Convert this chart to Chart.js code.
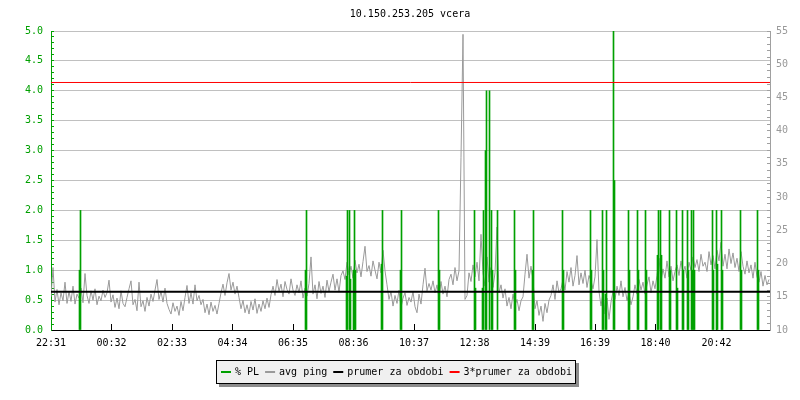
<!DOCTYPE html>
<html><head><meta charset="utf-8">
<script src="https://cdn.jsdelivr.net/npm/chart.js@4/dist/chart.umd.min.js"></script>
<style>html,body{margin:0;padding:0;background:#fff;}canvas{display:block;}</style>
</head><body>
<canvas id="c" width="800" height="400"></canvas>
<script>
const TITLE = '10.150.253.205 vcera';
const X_TICK_MINUTES = [0, 121, 242, 363, 484, 605, 726, 847, 968, 1088, 1209, 1331];
const X_TICK_LABELS = ['22:31','00:32','02:33','04:34','06:35','08:36','10:37','12:38','14:39','16:39','18:40','20:42'];
const X_MAX = 1438;
const PING_STEP_MIN = 4;
const PING_MS = [
  15.0, 19.4, 14.2, 16.1, 13.8, 15.6, 14.4, 17.2, 14.0, 15.8,
  14.3, 16.6, 13.9, 15.4, 14.8, 16.3, 14.1, 18.5, 15.2, 14.0,
  15.9, 14.5, 16.2, 13.8, 15.1, 14.4, 16.0, 14.9, 15.6, 17.5,
  14.2, 15.3, 13.4, 14.8, 13.2, 15.9, 14.0, 13.5, 14.9, 16.2,
  17.4, 13.8, 14.6, 12.9, 17.2, 13.5, 14.4, 12.8, 14.9, 13.6,
  15.4, 14.3, 16.0, 17.6, 14.6, 15.8, 14.2, 16.3, 14.0, 13.1,
  12.4, 14.1, 12.8, 13.6, 12.2, 14.3, 12.9, 14.9, 16.7, 14.0,
  15.6, 13.9, 16.8, 14.4, 15.2, 13.8, 14.6, 12.6, 13.9, 12.3,
  14.2, 12.8, 13.7, 12.4, 14.0, 15.6, 16.9, 15.2, 17.1, 18.5,
  16.0, 17.2, 15.4, 16.6, 14.9, 13.2, 14.5, 12.6, 13.8, 12.4,
  14.3, 13.0, 14.7, 12.5, 13.9, 12.8, 14.4, 13.2, 14.8, 13.4,
  15.3, 16.6, 15.2, 17.6, 15.8, 16.9, 15.0, 17.3, 16.1, 15.4,
  17.7, 16.0, 15.2, 16.8, 15.6, 17.4, 14.8, 16.3, 15.1, 17.0,
  21.0, 15.4, 16.8, 14.7, 17.3, 15.5, 16.6, 14.9, 17.5, 15.8,
  17.2, 18.4, 16.0, 17.7, 15.7, 18.2, 18.9, 17.6, 20.2, 18.3,
  19.6, 17.8, 20.5, 18.6, 19.9, 18.0, 20.3, 22.6, 18.8, 19.7,
  18.1, 20.4, 19.0, 17.7, 20.2, 18.6, 22.0, 18.9, 16.8, 14.6,
  15.8, 13.6, 15.2, 14.0, 16.0, 13.4, 14.8, 15.6, 13.7, 14.9,
  14.2, 15.8, 13.5, 12.6, 15.4, 13.9, 16.8, 19.3, 15.9, 17.0,
  16.0, 17.4, 15.6, 16.8, 14.8, 17.3, 15.4, 16.6, 15.0, 17.6,
  18.4, 16.8, 19.4, 17.4, 18.9, 36.0, 54.5, 14.6, 15.2, 18.6,
  17.3, 19.8, 18.0, 20.2, 17.4, 24.4, 18.6, 16.6, 21.0, 17.2,
  19.4, 16.4, 18.6, 25.5, 15.6, 16.8, 14.8, 16.2, 13.6, 14.9,
  13.2, 15.4, 13.8, 14.6, 12.9, 14.4, 15.0, 18.4, 21.4, 17.8,
  19.6, 17.6, 13.2, 14.4, 12.2, 13.6, 11.3, 14.0, 12.6, 14.5,
  15.2, 16.8, 14.6, 17.4, 15.6, 16.2, 17.6, 16.0, 18.8, 17.2,
  19.4, 16.6, 18.2, 21.2, 16.8, 18.6, 17.0, 19.0, 16.4, 18.2,
  17.4, 16.2, 18.0, 23.6, 15.8, 13.6, 15.6, 12.4, 14.8, 11.6,
  14.2, 15.8, 14.6, 16.6, 15.2, 17.4, 15.0, 16.4, 14.4, 15.6,
  13.8, 15.0, 16.8, 15.4, 17.6, 16.0, 17.2, 15.4, 16.8, 18.0,
  15.6, 17.4, 16.2, 18.2, 20.8, 17.4, 19.2, 17.8, 20.4, 18.0,
  19.6, 17.4, 18.8, 19.8, 18.2, 20.4, 18.6, 19.6, 17.8, 20.2,
  19.0, 21.0, 19.4, 20.6, 18.8, 21.4, 19.6, 20.2, 18.8, 21.8,
  19.8, 21.2, 19.2, 22.0, 20.4, 23.2, 19.6, 21.4, 19.2, 22.2,
  20.0, 21.6, 19.4, 20.8, 18.8, 21.8, 19.6, 18.4, 20.4, 18.6,
  19.8, 17.8, 20.2, 18.0, 17.2, 18.8, 16.6, 18.2, 16.8, 17.6
];
const PL_MINUTES = [
  57, 59, 509, 511, 591, 593, 597, 599, 605, 607, 609,
  661, 663, 699, 701, 775, 777, 847, 849, 863, 865,
  869, 871, 877, 881, 883, 893, 927, 929, 963, 965,
  1023, 1025, 1079, 1081, 1103, 1105, 1109, 1111, 1125, 1127,
  1155, 1157, 1173, 1175, 1189, 1191, 1213, 1215, 1219, 1221,
  1237, 1239, 1251, 1253, 1263, 1265, 1273, 1275, 1281, 1283,
  1285, 1287, 1323, 1325, 1331, 1333, 1341, 1343, 1379, 1381,
  1413, 1415
];
const PL_PERCENT = [
  1.0, 2.0, 1.0, 2.0, 0.9, 2.0, 2.0, 0.85, 1.0, 2.0, 1.0,
  1.1, 2.0, 1.0, 2.0, 2.0, 1.0, 2.0, 0.7, 0.7, 2.0,
  3.0, 4.0, 4.0, 2.0, 1.0, 2.0, 2.0, 1.0, 1.0, 2.0,
  2.0, 1.0, 2.0, 1.0, 2.0, 1.0, 0.6, 2.0, 5.0, 2.5,
  2.0, 1.0, 2.0, 1.0, 2.0, 1.0, 1.25, 2.0, 2.0, 1.25,
  2.0, 1.0, 2.0, 0.7, 2.0, 1.0, 2.0, 1.0, 2.0, 1.0,
  2.0, 1.0, 2.0, 1.0, 2.0, 1.1, 2.0, 1.0, 2.0, 1.0,
  2.0, 1.0
];
const AVG_PING = [15.75];
const TRIPLE_AVG_PING = [47.25];
const LEGEND_LABELS = ['% PL', 'avg ping', 'prumer za obdobi', '3*prumer za obdobi'];
const SERIES_COLORS = ['#00a000', '#9a9a9a', '#000000', '#ff0000'];

const FONT = { family: '"DejaVu Sans Mono", monospace', size: 10, weight: 'normal' };
const GREEN = SERIES_COLORS[0];
const isMajor = v => Math.abs(v * 2 - Math.round(v * 2)) < 1e-6;

const legendBox = {
  id: 'legendBox',
  afterDraw(chart) {
    const ctx = chart.ctx;
    ctx.save();
    ctx.font = '10px "DejaVu Sans Mono", monospace';
    const sw = 10, gapT = 4, gapI = 6, padL = 5, padR = 4;
    const widths = LEGEND_LABELS.map(t => ctx.measureText(t).width);
    let inner = 0;
    widths.forEach((w, i) => { inner += sw + gapT + w + (i ? gapI : 0); });
    const boxW = Math.round(inner + padL + padR);
    const boxH = 24;
    const bx = Math.round(396 - boxW / 2), by = 360;
    ctx.fillStyle = '#8c8c8c';
    ctx.fillRect(bx + 3, by + 3, boxW, boxH);
    ctx.fillStyle = '#f0f0f0';
    ctx.fillRect(bx, by, boxW, boxH);
    ctx.strokeStyle = '#000';
    ctx.lineWidth = 1;
    ctx.strokeRect(bx + 0.5, by + 0.5, boxW - 1, boxH - 1);
    let x = bx + padL;
    const cy = by + 12;
    ctx.textBaseline = 'middle';
    ctx.textAlign = 'left';
    LEGEND_LABELS.forEach((t, i) => {
      ctx.fillStyle = SERIES_COLORS[i];
      ctx.fillRect(x, cy - 1, sw, 2);
      x += sw + gapT;
      ctx.fillStyle = '#000';
      ctx.fillText(t, x, cy);
      x += widths[i] + gapI;
    });
    ctx.restore();
  }
};

const pingData = PING_MS.map((v, i) => ({ x: i * PING_STEP_MIN, y: v }));
const plData = PL_MINUTES.map((m, i) => ({ x: m, y: PL_PERCENT[i] }));

new Chart(document.getElementById('c'), {
  type: 'line',
  data: {
    datasets: [
      { type: 'bar', label: LEGEND_LABELS[0], data: plData, yAxisID: 'y', xAxisID: 'x',
        backgroundColor: GREEN, borderWidth: 0, barThickness: 1, grouped: false, order: 3 },
      { type: 'line', label: LEGEND_LABELS[1], data: pingData, yAxisID: 'y1', xAxisID: 'x',
        borderColor: SERIES_COLORS[1], borderWidth: 1, pointRadius: 0, tension: 0, order: 4 },
      { type: 'line', label: LEGEND_LABELS[2], data: [{ x: 0, y: AVG_PING[0] }, { x: X_MAX, y: AVG_PING[0] }],
        yAxisID: 'y1', xAxisID: 'x', borderColor: SERIES_COLORS[2], borderWidth: 2, pointRadius: 0, order: 1 },
      { type: 'line', label: LEGEND_LABELS[3], data: [{ x: 0, y: TRIPLE_AVG_PING[0] }, { x: X_MAX, y: TRIPLE_AVG_PING[0] }],
        yAxisID: 'y1', xAxisID: 'x', borderColor: SERIES_COLORS[3], borderWidth: 1, pointRadius: 0, order: 2 }
    ]
  },
  options: {
    responsive: false, animation: false, devicePixelRatio: 1,
    layout: { padding: { left: 20, right: 0, top: 0, bottom: 45 } },
    plugins: {
      legend: { display: false },
      tooltip: { enabled: false },
      title: { display: true, text: TITLE, color: '#000', font: FONT, padding: { top: 8, bottom: 11 } }
    },
    scales: {
      x: {
        type: 'linear', min: 0, max: X_MAX, offset: false,
        afterBuildTicks: s => { s.ticks = X_TICK_MINUTES.map(v => ({ value: v })); },
        ticks: { autoSkip: false, maxRotation: 0, color: '#000', font: FONT, padding: 13,
          callback: (v, i) => X_TICK_LABELS[i] },
        grid: { offset: false, drawOnChartArea: false, tickLength: -6, tickColor: '#000' },
        border: { color: '#000' },
        afterFit: s => { s.height = 25; }
      },
      y: {
        position: 'left', min: 0, max: 5,
        ticks: { stepSize: 0.1, autoSkip: false, maxTicksLimit: 100, color: GREEN, font: FONT, padding: 11,
          callback: v => isMajor(v) ? v.toFixed(1) : '' },
        grid: { color: c => (c.tick && isMajor(c.tick.value) && c.tick.value > 0) ? '#c0c0c0' : 'rgba(0,0,0,0)',
          tickColor: GREEN, tickLength: -3 },
        border: { color: GREEN },
        afterFit: s => { s.width = 31; }
      },
      y1: {
        position: 'right', min: 10, max: 55,
        ticks: { stepSize: 1, autoSkip: false, maxTicksLimit: 100, color: '#999', font: FONT, padding: 9,
          callback: v => (v % 5 === 0) ? String(v) : '' },
        grid: { drawOnChartArea: false, tickColor: '#a0a0a0', tickLength: -3 },
        border: { color: '#a0a0a0' },
        afterFit: s => { s.width = 30; }
      }
    }
  },
  plugins: [legendBox]
});
</script>
</body></html>
